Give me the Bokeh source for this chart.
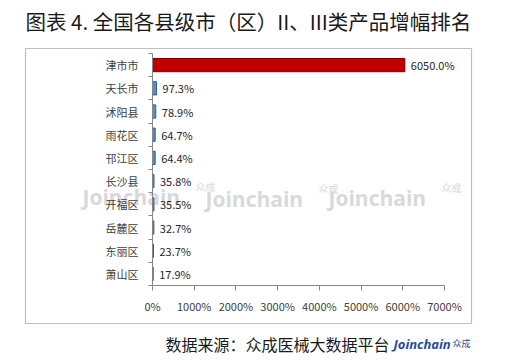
from bokeh.plotting import figure
from bokeh.models import (Range1d, FixedTicker, PrintfTickFormatter, Label,
                          LabelSet, ColumnDataSource)
from bokeh.core.properties import value
from bokeh.embed import file_html
from bokeh.resources import INLINE

# ---- data ----
categories = ["津市市", "天长市", "沭阳县", "雨花区", "邗江区",
              "长沙县", "开福区", "岳麓区", "东丽区", "萧山区"]
growth = [6050.0, 97.3, 78.9, 64.7, 64.4, 35.8, 35.5, 32.7, 23.7, 17.9]
x_ticks = [0, 1000, 2000, 3000, 4000, 5000, 6000, 7000]

title_text = "图表 4.  全国各县级市（区）II、III类产品增幅排名"
source_text = "数据来源：众成医械大数据平台"
logo_text = "Joinchain"
logo_cn = "众成"
watermark = "Joinchain"

FONT = "Noto Sans CJK SC"
W, H = 519, 360

# ---- layout: the frame covers the whole page; axes sit at fixed locations ----
AX_L, AX_R, AX_T, AX_B = 152, 444, 53, 285   # page px of the plot area
XMAX = x_ticks[-1]
n = len(categories)
px_x = (AX_R - AX_L) / XMAX
px_row = (AX_B - AX_T) / n


def dx(cx):          # page px -> data x
    return (cx - AX_L) / px_x


def dy(cy):          # page px -> data y
    return (AX_B - cy) / px_row


x_range = Range1d(dx(0), dx(W))
y_range = Range1d(dy(H), dy(0))

ypos = [n - i - 0.5 for i in range(n)]
colors = ["#c00000"] + ["#5b8cc6"] * (n - 1)
lines = ["#800000"] + ["#2f5f96"] * (n - 1)
labels = ["%.1f%%" % v for v in growth]
src = ColumnDataSource(dict(y=ypos, v=growth, c=colors, lc=lines, t=labels))

p = figure(width=W, height=H, x_range=x_range, y_range=y_range, min_border=0,
           output_backend="svg", toolbar_location=None,
           background_fill_color="white", border_fill_color="white",
           outline_line_color=None)
p.title.visible = False
p.xgrid.visible = False
p.ygrid.visible = False

# watermarks
wm_x = [dx(82), dx(205), dx(328)]
wm_y = [dy(196), dy(198), dy(197)]
p.text(x=wm_x, y=wm_y, text=[watermark] * 3,
       text_font=value("Open Sans"), text_font_style="bold",
       text_font_size="21px", text_color="#d9d9d9",
       text_baseline="alphabetic", level="underlay")
p.text(x=wm_x, y=wm_y, text=[logo_cn] * 3, x_offset=113, y_offset=-10,
       text_font=value(FONT), text_font_size="10px", text_color="#d9d9d9",
       text_baseline="alphabetic", level="underlay")

# chart border box (decoration)
p.quad(left=[dx(25)], right=[dx(471)], top=[dy(48)], bottom=[dy(323)],
       fill_alpha=0, line_color="#bfbfbf", line_width=1.2)

p.hbar(y="y", right="v", left=0, height=0.57, fill_color="c",
       line_color="lc", line_width=1, source=src)

p.add_layout(LabelSet(x="v", y="y", text="t", source=src, x_offset=6,
                      text_baseline="middle", text_align="left",
                      text_font=value(FONT), text_font_size=value("11px"),
                      text_color=value("#262626")))

# x axis
xa = p.xaxis[0]
xa.fixed_location = 0
xa.bounds = (0, XMAX)
xa.ticker = FixedTicker(ticks=x_ticks, minor_ticks=[])
xa.formatter = PrintfTickFormatter(format="%d%%")
xa.axis_line_color = "#868686"
xa.major_tick_line_color = "#868686"
xa.major_tick_out = 5
xa.major_tick_in = 0
xa.minor_tick_line_color = None
xa.major_label_standoff = 7
xa.major_label_text_font = FONT
xa.major_label_text_font_size = "11px"
xa.major_label_text_color = "#404040"

# y axis (category labels at row centres, ticks at row boundaries)
ya = p.yaxis[0]
ya.fixed_location = 0
ya.bounds = (0, n)
ya.ticker = FixedTicker(ticks=ypos, minor_ticks=list(range(n + 1)))
ya.major_label_overrides = {y: c for y, c in zip(ypos, categories)}
ya.axis_line_color = "#868686"
ya.major_tick_line_color = None
ya.major_tick_out = 0
ya.major_tick_in = 0
ya.minor_tick_line_color = "#868686"
ya.minor_tick_out = 4
ya.minor_tick_in = 0
ya.major_label_standoff = 10
ya.major_label_text_font = FONT
ya.major_label_text_font_size = "11px"
ya.major_label_text_color = "#404040"

# title
p.add_layout(Label(x=dx(25), y=dy(20), text=title_text, text_font=FONT,
                   text_font_size="20.5px", text_color="#1a1a1a",
                   text_baseline="middle"))

# footer
p.add_layout(Label(x=dx(165), y=dy(343), text=source_text, text_font=FONT,
                   text_font_size="16px", text_color="#1a1a1a",
                   text_baseline="middle"))
p.add_layout(Label(x=dx(393), y=dy(343), text=logo_text, text_font="Open Sans",
                   text_font_style="bold italic", text_font_size="13px",
                   text_color="#1f4e9c", text_baseline="middle"))
p.add_layout(Label(x=dx(452), y=dy(343), text=logo_cn, text_font=FONT,
                   text_font_size="9px", text_color="#1f4e9c",
                   text_baseline="middle"))

open("out.html", "w").write(file_html(p, INLINE))
